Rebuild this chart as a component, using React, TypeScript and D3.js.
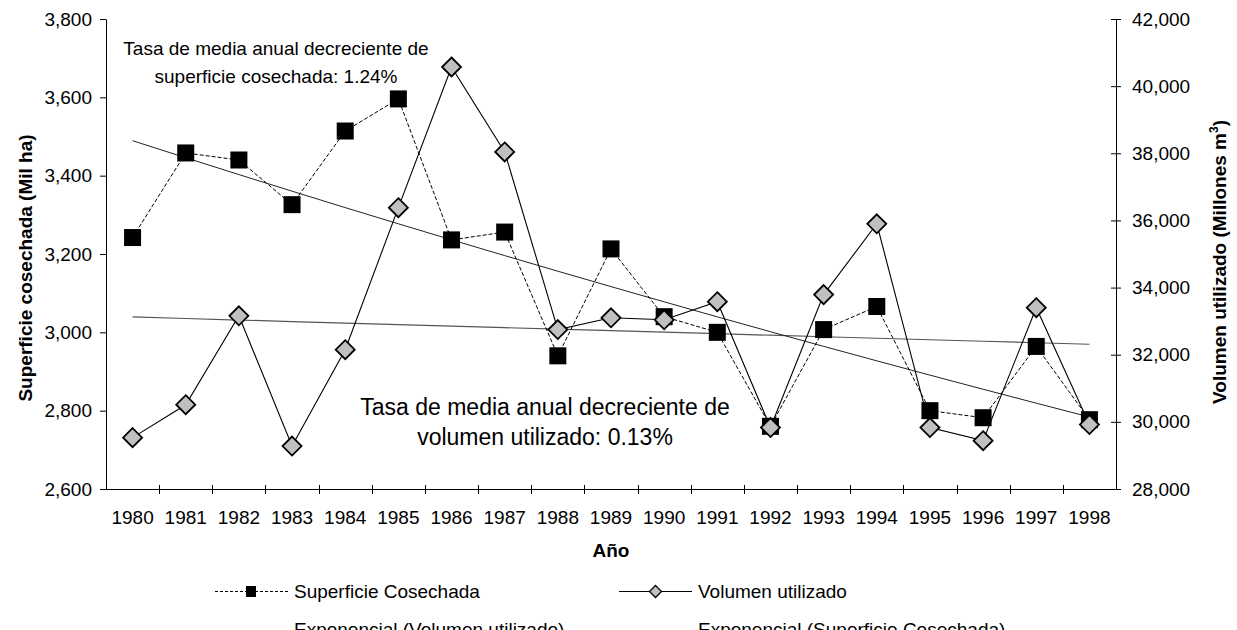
import { useEffect, useRef } from "react";
import * as d3 from "d3";

const YEARS = [
  "1980", "1981", "1982", "1983", "1984", "1985", "1986", "1987", "1988", "1989",
  "1990", "1991", "1992", "1993", "1994", "1995", "1996", "1997", "1998",
];
// Superficie cosechada (Mil ha) - left axis
const SUPERFICIE = [
  3242, 3458, 3440, 3326, 3514, 3596, 3236, 3256, 2940, 3213,
  3040, 3000, 2760, 3007, 3066, 2800, 2782, 2964, 2777,
];
// Volumen utilizado (Millones m3) - right axis
const VOLUMEN = [
  29530, 30510, 33160, 29280, 32150, 36380, 40570, 38040, 32750, 33100,
  33040, 33580, 29830, 33790, 35900, 29830, 29440, 33400, 29920,
];
const LEFT_TICKS = [2600, 2800, 3000, 3200, 3400, 3600, 3800];
const RIGHT_TICKS = [28000, 30000, 32000, 34000, 36000, 38000, 40000, 42000];

const W = 1237;
const H = 630;
const FONT = "'Liberation Sans', Arial, Helvetica, sans-serif";

// exponential trend (least squares on ln y), like Excel's trendline
function expFit(values: number[]) {
  const xs = values.map((_, i) => i);
  const ls = values.map((v) => Math.log(v));
  const mx = d3.mean(xs) as number;
  const my = d3.mean(ls) as number;
  const b =
    d3.sum(xs, (x, i) => (x - mx) * (ls[i] - my)) /
    d3.sum(xs, (x) => (x - mx) * (x - mx));
  const a = my - b * mx;
  return values.map((_, i) => Math.exp(a + b * i));
}

function diamond(r: number) {
  return `M0,${-r}L${r},0L0,${r}L${-r},0Z`;
}

function buildChart(svgEl: SVGSVGElement) {
  const left = 106, right = 1116, top = 19, bottom = 489;

  const svg = d3.select(svgEl);
  svg.selectAll("*").remove();
  svg.attr("width", W).attr("height", H);

  svg.append("rect").attr("width", W).attr("height", H).attr("fill", "#fff");

  const x = d3.scaleBand<string>().domain(YEARS).range([left, right]);
  const cx = (i: number) => (x(YEARS[i]) as number) + x.bandwidth() / 2;
  const yL = d3.scaleLinear().domain([2600, 3800]).range([bottom, top]);
  const yR = d3.scaleLinear().domain([28000, 42000]).range([bottom, top]);
  const fmt = d3.format(",");

  // Left axis
  svg.append("g")
    .attr("transform", `translate(${left},0)`)
    .call(d3.axisLeft(yL).tickValues(LEFT_TICKS).tickSize(6).tickSizeOuter(0).tickPadding(8).tickFormat((d) => fmt(d as number)))
    .call((ax) => {
      ax.select(".domain").attr("stroke", "#000");
      ax.selectAll(".tick line").attr("stroke", "#000");
      ax.selectAll("text").attr("fill", "#000").style("font-size", "19px").style("font-family", FONT);
    });

  // Right axis (cross ticks)
  svg.append("g")
    .attr("transform", `translate(${right},0)`)
    .call(d3.axisRight(yR).tickValues(RIGHT_TICKS).tickSize(4).tickSizeOuter(0).tickPadding(12).tickFormat((d) => fmt(d as number)))
    .call((ax) => {
      ax.select(".domain").attr("stroke", "#000");
      ax.selectAll(".tick line").attr("stroke", "#000").attr("x1", -5).attr("x2", 5);
      ax.selectAll("text").attr("fill", "#000").style("font-size", "19px").style("font-family", FONT);
    });

  // Bottom axis: labels centred, ticks between categories
  svg.append("g")
    .attr("transform", `translate(0,${bottom})`)
    .call(d3.axisBottom(x).tickSize(0).tickPadding(22))
    .call((ax) => {
      ax.select(".domain").attr("stroke", "#000");
      ax.selectAll("text").attr("fill", "#000").style("font-size", "19px").style("font-family", FONT);
    });
  svg.append("g")
    .selectAll("line")
    .data(YEARS.slice(1))
    .join("line")
    .attr("x1", (d) => Math.round(x(d) as number) + 0.5)
    .attr("x2", (d) => Math.round(x(d) as number) + 0.5)
    .attr("y1", bottom - 4)
    .attr("y2", bottom + 5)
    .attr("stroke", "#000");

  // Trend lines
  const supTrend = expFit(SUPERFICIE);
  const volTrend = expFit(VOLUMEN);
  const idx = YEARS.map((_, i) => i);

  svg.append("path")
    .datum(idx)
    .attr("fill", "none")
    .attr("stroke", "#555")
    .attr("stroke-width", 1.2)
    .attr("d", d3.line<number>().x((i) => cx(i)).y((i) => yR(volTrend[i])));

  svg.append("path")
    .datum(idx)
    .attr("fill", "none")
    .attr("stroke", "#222")
    .attr("stroke-width", 1)
    .attr("d", d3.line<number>().x((i) => cx(i)).y((i) => yL(supTrend[i])));

  // Superficie series
  svg.append("path")
    .datum(idx)
    .attr("fill", "none")
    .attr("stroke", "#000")
    .attr("stroke-width", 1)
    .attr("stroke-dasharray", "4 2")
    .attr("d", d3.line<number>().x((i) => cx(i)).y((i) => yL(SUPERFICIE[i])));

  svg.append("g")
    .selectAll("rect")
    .data(idx)
    .join("rect")
    .attr("x", (i) => cx(i) - 8.5)
    .attr("y", (i) => yL(SUPERFICIE[i]) - 8.5)
    .attr("width", 17)
    .attr("height", 17)
    .attr("fill", "#000");

  // Volumen series
  svg.append("path")
    .datum(idx)
    .attr("fill", "none")
    .attr("stroke", "#000")
    .attr("stroke-width", 1.1)
    .attr("d", d3.line<number>().x((i) => cx(i)).y((i) => yR(VOLUMEN[i])));

  svg.append("g")
    .selectAll("path")
    .data(idx)
    .join("path")
    .attr("transform", (i) => `translate(${cx(i)},${yR(VOLUMEN[i])})`)
    .attr("d", diamond(9.5))
    .attr("fill", "#c0c0c0")
    .attr("stroke", "#000")
    .attr("stroke-width", 1.8);

  // Annotations
  const note = (lines: string[], xc: number, y0: number, lh: number, size: number) => {
    lines.forEach((t, k) => {
      svg.append("text")
        .attr("x", xc)
        .attr("y", y0 + k * lh)
        .attr("text-anchor", "middle")
        .style("font-size", `${size}px`)
        .style("font-family", FONT)
        .attr("fill", "#000")
        .text(t);
    });
  };
  note(["Tasa de media anual decreciente de", "superficie cosechada: 1.24%"], 276, 55, 28, 19);
  note(["Tasa de media anual decreciente de", "volumen utilizado: 0.13%"], 545, 415, 30, 23);

  // Axis titles
  svg.append("text")
    .attr("transform", "translate(32,268) rotate(-90)")
    .attr("text-anchor", "middle")
    .style("font-size", "19px")
    .style("font-weight", "bold")
    .style("font-family", FONT)
    .text("Superficie cosechada (Mil ha)");

  const rt = svg.append("text")
    .attr("transform", "translate(1226,262) rotate(-90)")
    .attr("text-anchor", "middle")
    .style("font-size", "19px")
    .style("font-weight", "bold")
    .style("font-family", FONT);
  rt.append("tspan").text("Volumen utilizado (Millones m");
  rt.append("tspan").attr("dy", -8).style("font-size", "12px").text("3");
  rt.append("tspan").attr("dy", 8).text(")");

  svg.append("text")
    .attr("x", (left + right) / 2)
    .attr("y", 557)
    .attr("text-anchor", "middle")
    .style("font-size", "19px")
    .style("font-weight", "bold")
    .style("font-family", FONT)
    .text("Año");

  // Legend
  const lg = svg.append("g").style("font-family", FONT).style("font-size", "19px");
  const item = (x0: number, y: number, label: string, draw: (g: any) => void) => {
    const g = lg.append("g").attr("transform", `translate(${x0},${y})`);
    draw(g);
    g.append("text").attr("x", 79).attr("y", 7).attr("fill", "#000").text(label);
  };
  item(215, 591, "Superficie Cosechada", (g) => {
    g.append("line").attr("x1", 0).attr("x2", 73).attr("y1", 0.5).attr("y2", 0.5)
      .attr("stroke", "#000").attr("stroke-dasharray", "3 2");
    g.append("rect").attr("x", 31).attr("y", -5).attr("width", 10).attr("height", 11).attr("fill", "#000");
  });
  item(619, 591, "Volumen utilizado", (g) => {
    g.append("line").attr("x1", 0).attr("x2", 73).attr("y1", 0.5).attr("y2", 0.5).attr("stroke", "#000");
    g.append("path").attr("transform", "translate(36.5,0.5)").attr("d", diamond(6))
      .attr("fill", "#c0c0c0").attr("stroke", "#000").attr("stroke-width", 1.3);
  });
  item(215, 629, "Exponencial (Volumen utilizado)", (g) => {
    g.append("line").attr("x1", 0).attr("x2", 73).attr("y1", 1.5).attr("y2", 1.5).attr("stroke", "#555");
  });
  item(619, 629, "Exponencial (Superficie Cosechada)", (g) => {
    g.append("line").attr("x1", 0).attr("x2", 73).attr("y1", 1.5).attr("y2", 1.5).attr("stroke", "#222");
  });
}

export default function App() {
  const svgRef = useRef<SVGSVGElement>(null);

  useEffect(() => {
    if (svgRef.current) buildChart(svgRef.current);
  }, []);

  return (
    <svg
      ref={svgRef}
      width={W}
      height={H}
      style={{ position: "absolute", left: 0, top: 0, display: "block" }}
    />
  );
}
